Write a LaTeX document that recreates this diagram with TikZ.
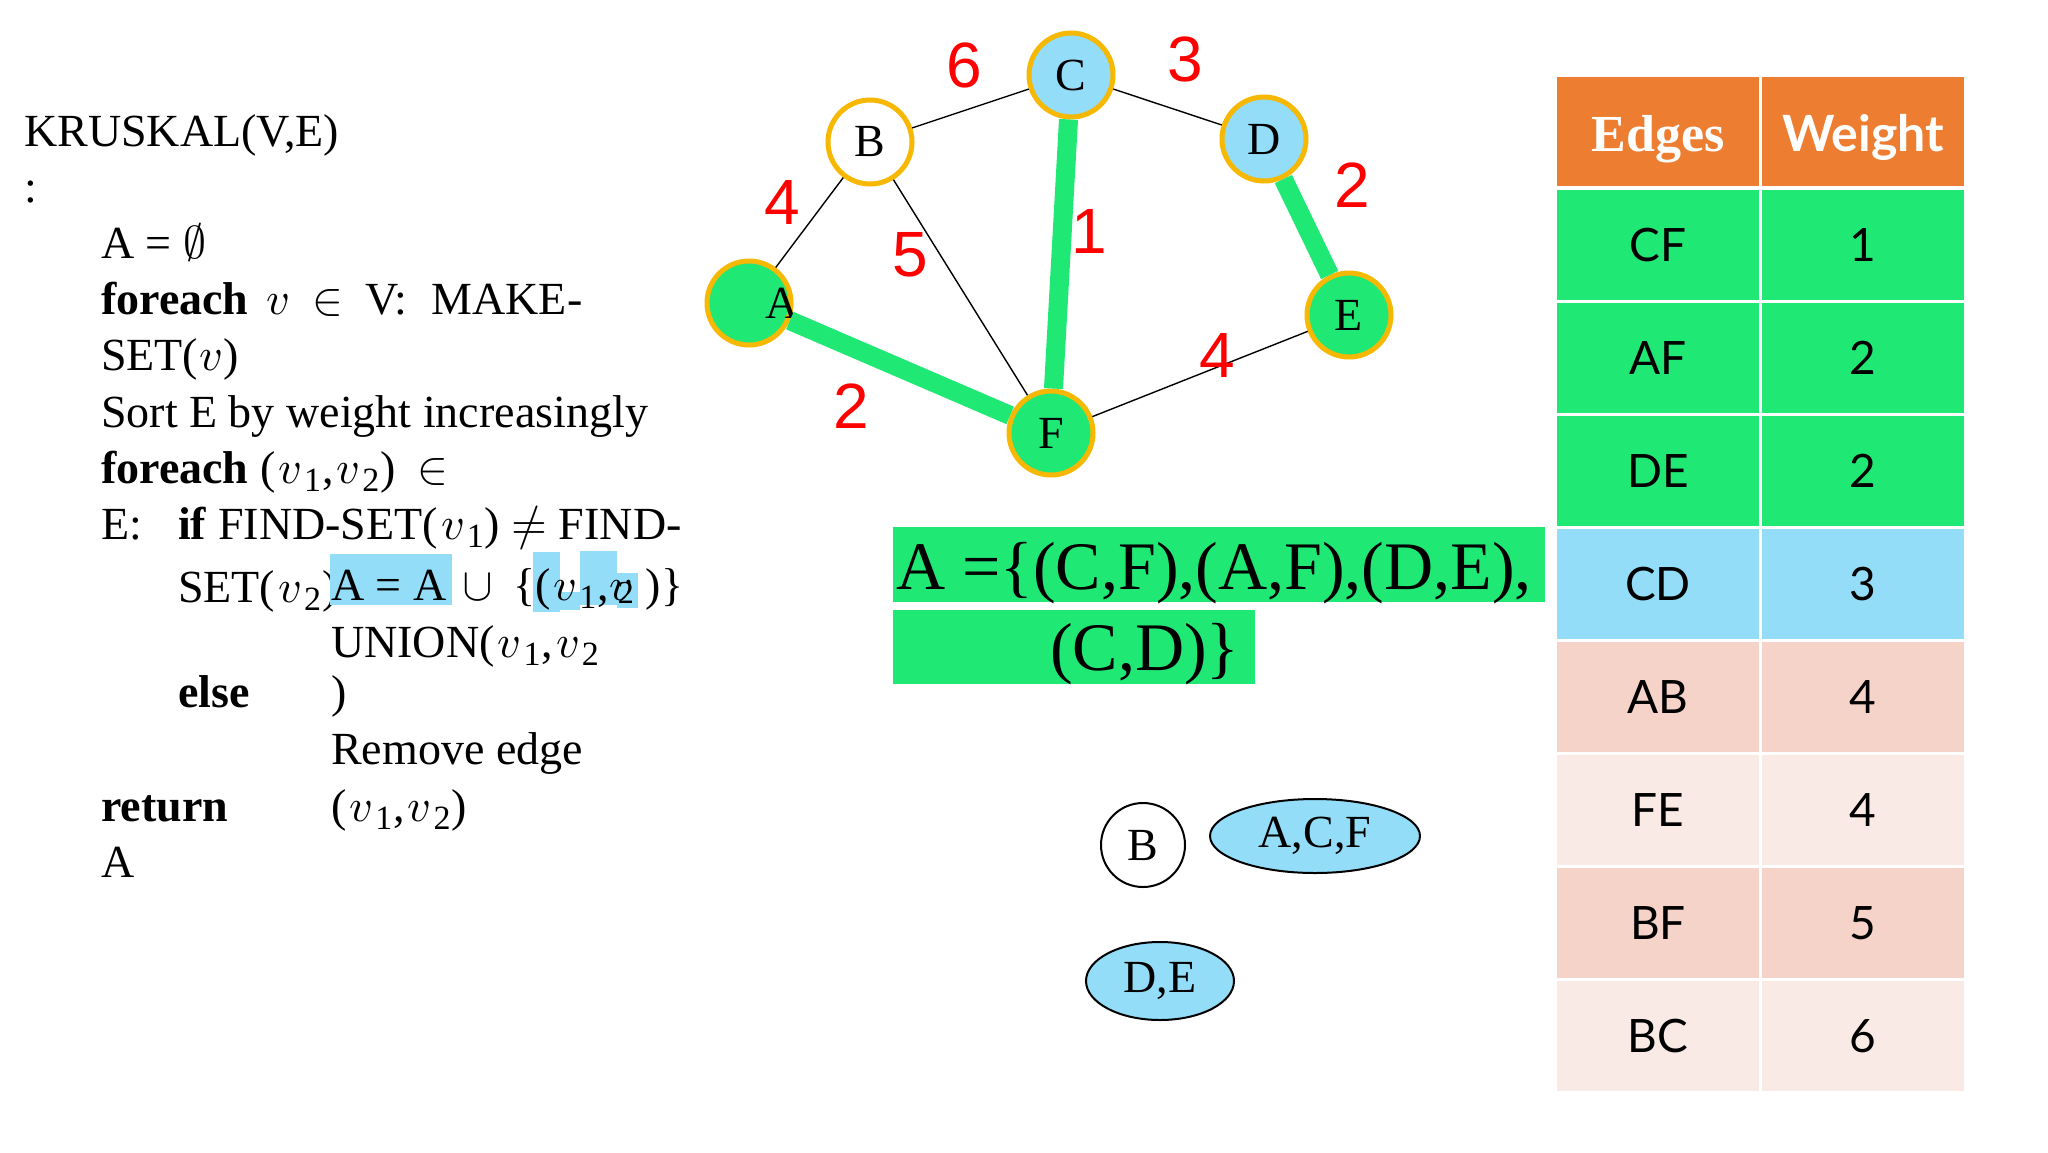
\documentclass[tikz,border=0pt]{standalone}
\usepackage{fontspec}
\usepackage{unicode-math}
\setmainfont{Liberation Serif}
\setmathfont{Latin Modern Math}
\newfontfamily\latofont{Lato}
\newfontfamily\arialfont{Liberation Sans}
\usetikzlibrary{shapes.geometric}
\definecolor{mstgreen}{RGB}{32,232,117}
\definecolor{setblue}{RGB}{147,221,249}
\definecolor{ringgold}{RGB}{246,184,0}
\definecolor{hdrorange}{RGB}{237,125,49}
\definecolor{pinkA}{RGB}{245,211,201}
\definecolor{pinkB}{RGB}{250,234,230}
\newcommand\vx{\ensuremath{v}}
\newcommand\vs[1]{\kern3pt\ensuremath{v}\kern3pt\raisebox{-8pt}{\fontsize{34}{34}\selectfont #1}\kern1pt}
\begin{document}
\begin{tikzpicture}[x=1pt,y=-1pt,
  code/.style={anchor=base west, inner sep=0pt, font=\fontsize{46}{56}\selectfont},
  vtx/.style={circle, minimum size=84pt, inner sep=0pt, draw=ringgold, line width=5pt, font=\fontsize{46}{56}\selectfont},
  thinedge/.style={line width=1.4pt, black},
  mstedge/.style={line width=19pt, mstgreen},
  wlabel/.style={text=red, font=\arialfont\fontsize{64}{64}\selectfont, inner sep=0pt},
  cell/.style={draw=white, line width=3pt, anchor=north west, minimum width=205pt, minimum height=113pt, inner sep=0pt},
  celltext/.style={font=\latofont\fontsize{46}{46}\selectfont},
  hdrtext/.style={text=white, text height=40pt, text depth=0pt},
  setnode/.style={draw=black, line width=2pt, font=\fontsize{46}{46}\selectfont, inner sep=0pt},
  patch/.style={fill=setblue, draw=none}
]
\useasboundingbox[fill=white] (0,0) rectangle (2048,1152);

% ---------- pseudo-code ----------
\node[code] (l0) at (24,146) {KRUSKAL(V,E)};
\node[code] (l1) at (24,202) {:};
\node[code] (l2) at (101,258) {A = $\emptyset$};
\node[code] (l3) at (101,314) {\textbf{foreach}\hspace{18pt}\vx\hspace{23pt}$\in$\hspace{22pt}V:\hspace{24pt}MAKE-};
\node[code] (l4) at (101,370) {SET(\kern1pt\vx\kern1pt)};
\node[code] (l5) at (101,427) {Sort E by weight increasingly};
\node[code] (l6) at (101,483) {\textbf{foreach} (\vs{1},\vs{2})\hspace{22pt}$\in$};
\node[code] (l7a) at (101,539) {E:};
\node[code] (l7b) at (178,539) {\textbf{if} FIND-SET(\vs{1}) $\neq$ FIND-};
\node[code] (l8a) at (178,602) {SET(\vs{2}):};
\path[patch] (330,554) rectangle (452,605);
\path[patch] (533,552) rectangle (560,612);
\path[patch] (560,592) rectangle (580,610);
\path[patch] (580,551) rectangle (617,605);
\path[patch] (617,573) rectangle (638,608);
\node[code] (l8b) at (331,600) {A = A};
\node[code] (l8c) at (462,600) {$\cup$};
\node[code] (l8d) at (513,600) {\{(\vs{1},\kern1pt\rlap{\vx}\kern8pt\raisebox{-3pt}{\fontsize{32}{32}\selectfont 2}\hspace{12pt})\}};
\node[code] (l9) at (331,657) {UNION(\vs{1},\vs{2}};
\node[code] (l10a) at (178,707) {\textbf{else}};
\node[code] (l10b) at (331,707) {)};
\node[code] (l11) at (331,764) {Remove edge};
\node[code] (l12a) at (101,821) {\textbf{return}};
\node[code] (l12b) at (331,821) {(\vs{1},\vs{2})};
\node[code] (l13) at (101,877) {A};

% ---------- graph ----------
\node[vtx, fill=mstgreen] (A) at (749,303) {};
\node[inner sep=0pt, font=\fontsize{46}{56}\selectfont] (Alab) at (782,303) {A};
\node[vtx, fill=white] (B) at (870,142) {B};
\node[vtx, fill=setblue] (C) at (1071,75) {C};
\node[vtx, fill=setblue] (D) at (1264,139) {D};
\node[vtx, fill=mstgreen] (E) at (1349,315) {E};
\node[vtx, fill=mstgreen] (F) at (1051,433) {F};

\draw[thinedge] (A) -- (B);
\draw[thinedge] (B) -- (C);
\draw[thinedge] (C) -- (D);
\draw[thinedge] (B) -- (F);
\draw[thinedge] (F) -- (E);
\draw[mstedge] (C) -- (F);
\draw[mstedge] (A) -- (F);
\draw[mstedge] (D) -- (E);

\node[wlabel] (w6) at (964,65) {6};
\node[wlabel] (w3) at (1185,59) {3};
\node[wlabel] (w4a) at (782,202) {4};
\node[wlabel] (w5) at (910,255) {5};
\node[wlabel] (w1) at (1089,231) {1};
\node[wlabel] (w2a) at (1352,185) {2};
\node[wlabel] (w2b) at (851,406) {2};
\node[wlabel] (w4b) at (1217,355) {4};

% ---------- result set ----------
\node[fill=mstgreen, anchor=north west, minimum width=652pt, minimum height=75pt, inner sep=0pt] (res1) at (893,527) {};
\node[fill=mstgreen, anchor=north west, minimum width=362pt, minimum height=74pt, inner sep=0pt] (res2) at (893,610) {};
\node[anchor=base west, inner sep=0pt, font=\fontsize{68}{68}\selectfont] (rt1) at (896,589) {A =\{(C,F),(A,F),(D,E),};
\node[anchor=base west, inner sep=0pt, font=\fontsize{68}{68}\selectfont] (rt2) at (1050,670) {(C,D)\}};

% ---------- disjoint sets ----------
\node[setnode, circle, fill=white, minimum size=84pt] (sB) at (1143,845) {B};
\node[setnode, ellipse, fill=setblue, minimum width=210pt, minimum height=74pt] (sACF) at (1315,836) {A,C,F};
\node[setnode, ellipse, fill=setblue, minimum width=148pt, minimum height=78pt] (sDE) at (1160,981) {D,E};

% ---------- table ----------
\node[cell, fill=hdrorange, minimum height=112pt, hdrtext, font=\bfseries\fontsize{52}{52}\selectfont] (h1) at (1554,74) {Edges};
\node[cell, fill=hdrorange, minimum height=112pt, hdrtext, font=\latofont\bfseries\fontsize{50}{50}\selectfont] (h2) at (1759,74) {Weight};
\foreach \e/\w/\c [count=\i] in {CF/1/mstgreen, AF/2/mstgreen, DE/2/mstgreen, CD/3/setblue, AB/4/pinkA, FE/4/pinkB, BF/5/pinkA, BC/6/pinkB} {
  \node[cell, celltext, fill=\c] (te\i) at (1554,{187+113*(\i-1)}) {\e};
  \node[cell, celltext, fill=\c] (tw\i) at (1759,{187+113*(\i-1)}) {\w};
}
\end{tikzpicture}
\end{document}
